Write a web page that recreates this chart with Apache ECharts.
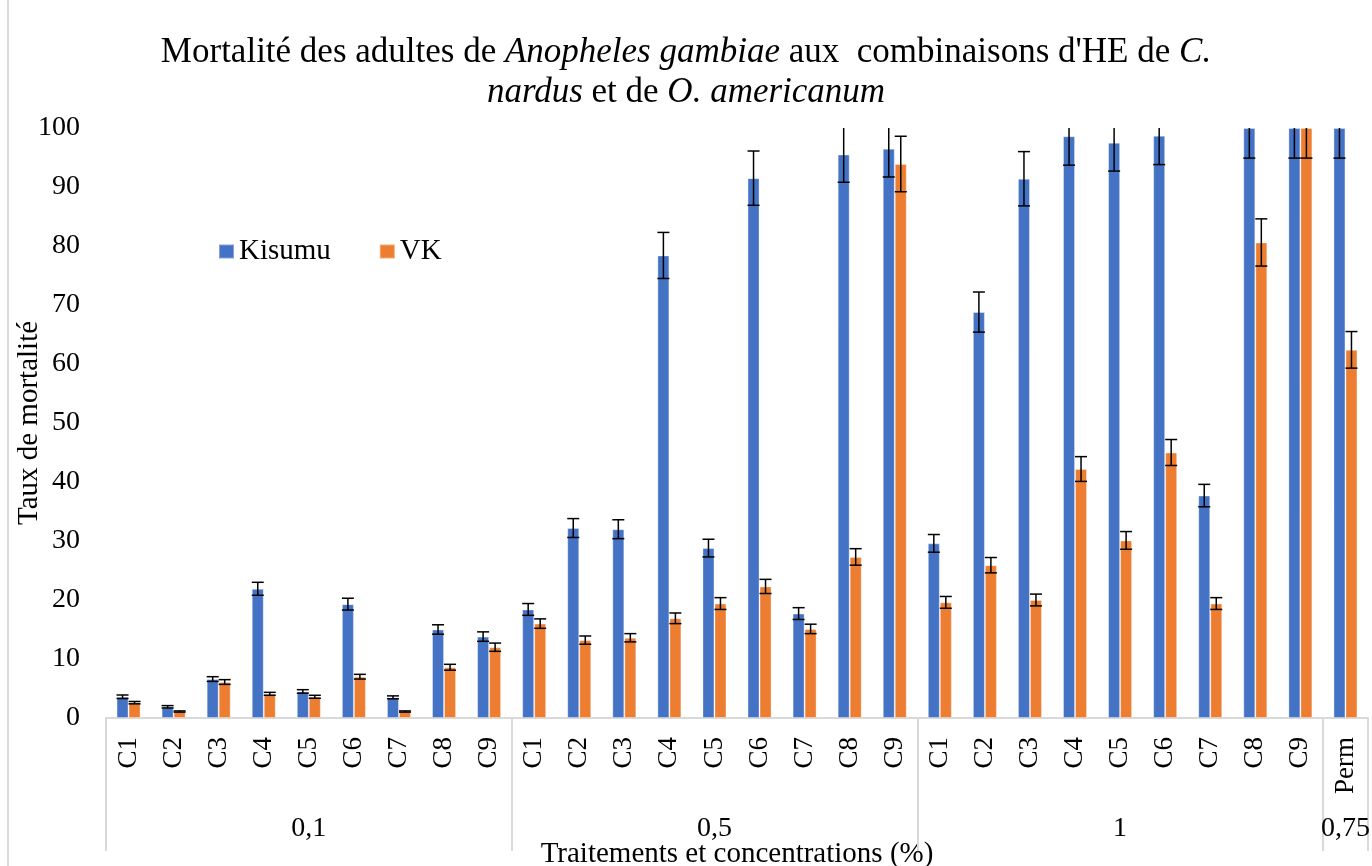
<!DOCTYPE html>
<html>
<head>
<meta charset="utf-8">
<script src="https://cdn.jsdelivr.net/npm/echarts@6/dist/echarts.min.js"></script>
<style>
html,body{margin:0;padding:0;background:#fff;}
#chart{width:1372px;height:866px;}
</style>
</head>
<body>
<div id="chart"></div>
<script>
// ---- data ----
const categories = ['C1','C2','C3','C4','C5','C6','C7','C8','C9',
                    'C1','C2','C3','C4','C5','C6','C7','C8','C9',
                    'C1','C2','C3','C4','C5','C6','C7','C8','C9',
                    'Perm'];
const groupNames = ['0,1','0,5','1','0,75'];
const groupSizes = [9, 9, 9, 1];
const seriesNames = ['Kisumu', 'VK'];
const kisumu    = [3.6, 1.9, 6.6, 21.9, 4.5, 19.3, 3.5, 15.0, 13.8,
                   18.4, 32.2, 32.0, 78.4, 28.8, 91.5, 17.7, 95.5, 96.5,
                   29.6, 68.8, 91.4, 98.6, 97.5, 98.7, 37.7, 100, 100,
                   100];
const kisumuErr = [0.3, 0.2, 0.4, 1.1, 0.3, 1.0, 0.25, 0.8, 0.8,
                   1.0, 1.6, 1.6, 3.9, 1.5, 4.6, 1.0, 4.7, 4.8,
                   1.5, 3.4, 4.6, 4.9, 4.8, 4.9, 1.9, 5.1, 5.1,
                   5.1];
const vk        = [2.6, 1.1, 6.1, 4.1, 3.6, 7.0, 1.1, 8.6, 12.0,
                   16.0, 13.2, 13.6, 16.9, 19.4, 22.3, 15.1, 27.3, 93.9,
                   19.6, 25.9, 20.0, 42.2, 30.1, 45.0, 19.4, 80.6, 100,
                   62.4];
const vkErr     = [0.2, 0.1, 0.4, 0.25, 0.25, 0.4, 0.1, 0.5, 0.7,
                   0.8, 0.7, 0.7, 0.9, 1.0, 1.2, 0.8, 1.4, 4.7,
                   1.0, 1.3, 1.0, 2.1, 1.5, 2.2, 1.0, 4.0, 5.1,
                   3.1];
const yMin = 0, yMax = 100, yInterval = 10;

// ---- derived helpers ----
const groupStart = [], groupMid = [], groupLabelAt = [];
(function(){
  let s = 0;
  groupSizes.forEach(function(n, g){
    groupStart.push(s);
    groupMid.push(s + Math.floor(n / 2));
    for (let k = 0; k < n; k++) groupLabelAt.push(groupNames[g]);
    s += n;
  });
})();

const FONT = '"Liberation Serif", "Times New Roman", serif';
const BAR_W = 12;
const COLORS = ['#4472C4', '#ED7D31'];

function errSeries(vals, errs, offset) {
  return {
    type: 'custom',
    xAxisIndex: 0, yAxisIndex: 0,
    clip: true,
    z: 5,
    silent: true,
    encode: { x: 0, y: 1 },
    data: vals.map(function(v, i){ return [i, v, errs[i]]; }),
    renderItem: function(params, api){
      const i = api.value(0), v = api.value(1), e = api.value(2);
      const hi = api.coord([i, v + e]);
      const lo = api.coord([i, v - e]);
      const x = hi[0] + offset;
      const half = BAR_W / 2;
      const style = { stroke: '#000', lineWidth: 1.5 };
      return {
        type: 'group',
        children: [
          { type: 'line', shape: { x1: x, y1: hi[1], x2: x, y2: lo[1] }, style: style },
          { type: 'line', shape: { x1: x - half, y1: hi[1], x2: x + half, y2: hi[1] }, style: style },
          { type: 'line', shape: { x1: x - half, y1: lo[1], x2: x + half, y2: lo[1] }, style: style }
        ]
      };
    }
  };
}

const chart = echarts.init(document.getElementById('chart'), null, { renderer: 'canvas' });

const option = {
  backgroundColor: '#fff',
  animation: false,
  textStyle: { fontFamily: FONT, color: '#000' },
  title: {
    left: 'center',
    top: 33,
    padding: [0, 0, 0, 16],
    text: "{n|Mortalité des adultes de }{i|Anopheles gambiae}{n| aux  combinaisons d'HE de }{i|C.}\n{i|nardus}{n| et de }{i|O. americanum}",
    textStyle: {
      fontWeight: 'normal',
      rich: {
        n: { fontFamily: FONT, fontSize: 35, fontWeight: 'normal', color: '#000', lineHeight: 40 },
        i: { fontFamily: FONT, fontSize: 35, fontWeight: 'normal', fontStyle: 'italic', color: '#000', lineHeight: 40 }
      }
    }
  },
  legend: {
    data: seriesNames,
    left: 213,
    top: 232,
    icon: 'rect',
    itemWidth: 15,
    itemHeight: 14,
    itemGap: 48,
    textStyle: { fontFamily: FONT, fontSize: 29, color: '#000' }
  },
  grid: { left: 106, right: 4, top: 128, bottom: 148, containLabel: false, outerBoundsMode: 'none' },
  xAxis: [
    {
      type: 'category',
      data: categories,
      position: 'bottom',
      axisLine: { show: true, lineStyle: { color: '#d9d9d9', width: 2 } },
      axisTick: { show: false },
      axisLabel: { interval: 0, rotate: 90, margin: 19, fontFamily: FONT, fontSize: 27, color: '#000' },
      splitLine: { show: false },
      name: 'Traitements et concentrations (%)',
      nameLocation: 'middle',
      nameGap: 122,
      nameTextStyle: { fontFamily: FONT, fontSize: 29, color: '#000' }
    },
    {
      type: 'category',
      data: categories,
      position: 'bottom',
      offset: 0,
      axisLine: { show: false },
      axisTick: {
        show: true,
        length: 133,
        interval: function(index){ return groupStart.indexOf(index) >= 0; },
        lineStyle: { color: '#d9d9d9', width: 2 }
      },
      axisLabel: {
        interval: function(index){ return groupMid.indexOf(index) >= 0; },
        formatter: function(value, index){ return groupLabelAt[index]; },
        margin: 97,
        fontFamily: FONT, fontSize: 28, color: '#000'
      },
      splitLine: { show: false }
    }
  ],
  yAxis: {
    type: 'value',
    min: yMin, max: yMax, interval: yInterval,
    axisLine: { show: false },
    axisTick: { show: false },
    splitLine: { show: false },
    axisLabel: { margin: 26, fontFamily: FONT, fontSize: 28, color: '#000' },
    name: 'Taux de mortalité',
    nameLocation: 'middle',
    nameRotate: 90,
    nameGap: 62,
    nameMoveOverlap: false,
    nameTextStyle: { fontFamily: FONT, fontSize: 29, color: '#000' }
  },
  graphic: [
    { type: 'line', shape: { x1: 8, y1: 0, x2: 8, y2: 866 }, style: { stroke: '#d9d9d9', lineWidth: 2 }, silent: true }
  ],
  series: [
    {
      name: seriesNames[0], type: 'bar', data: kisumu,
      barWidth: BAR_W, barGap: '0%',
      itemStyle: { color: COLORS[0], borderColor: 'rgba(255,255,255,0.35)', borderWidth: 1 }
    },
    {
      name: seriesNames[1], type: 'bar', data: vk,
      barWidth: BAR_W, barGap: '0%',
      itemStyle: { color: COLORS[1], borderColor: 'rgba(255,255,255,0.35)', borderWidth: 1 }
    },
    errSeries(kisumu, kisumuErr, -BAR_W / 2),
    errSeries(vk, vkErr, BAR_W / 2)
  ]
};

chart.setOption(option);
</script>
</body>
</html>
